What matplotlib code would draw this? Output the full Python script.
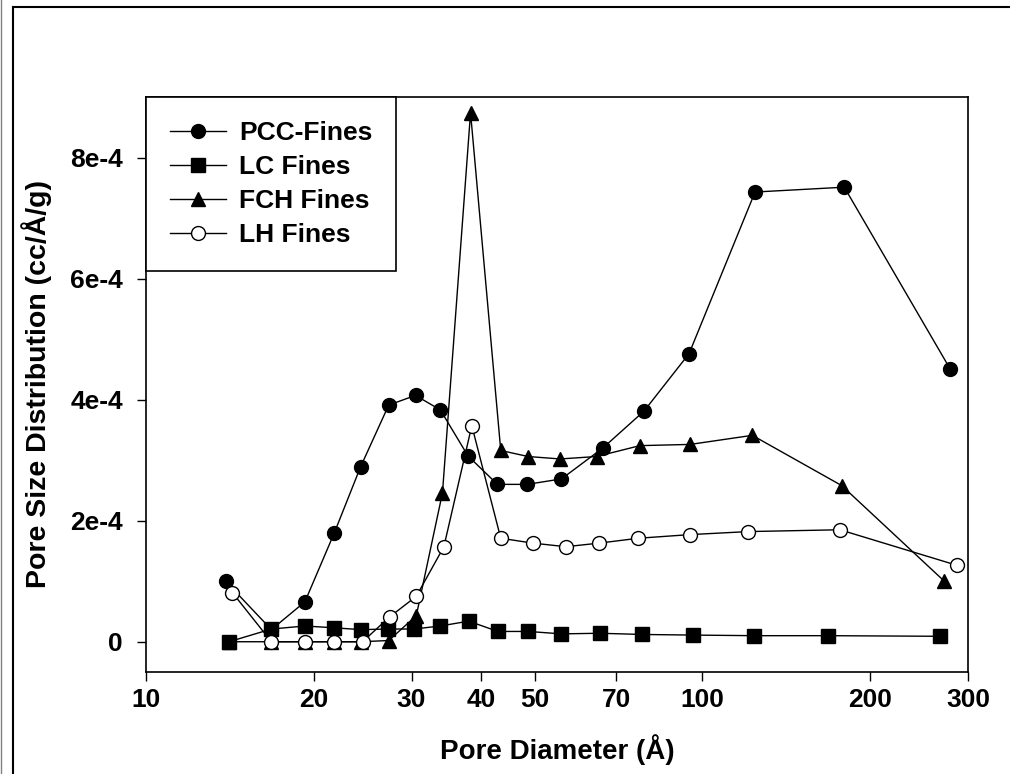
# 細孔径分布 (Pore size distribution) の再現
import numpy as np
import matplotlib
matplotlib.use("Agg")
import matplotlib.pyplot as plt
from matplotlib.lines import Line2D

plt.rcParams['font.family'] = ['Liberation Sans', 'DejaVu Sans']
plt.rcParams['font.weight'] = 'bold'

# データ
pcc_x = [13.9, 16.8, 19.3, 21.8, 24.3, 27.3, 30.5, 33.8, 37.9, 42.8, 48.4, 55.8, 66.2, 78.5, 94.6, 124.3, 179.8, 278.5]
pcc_y = [1.00e-4, 0.20e-4, 0.66e-4, 1.80e-4, 2.89e-4, 3.91e-4, 4.07e-4, 3.83e-4, 3.07e-4, 2.60e-4, 2.60e-4, 2.69e-4, 3.20e-4, 3.81e-4, 4.76e-4, 7.43e-4, 7.51e-4, 4.51e-4]

lc_x = [14.1, 16.8, 19.3, 21.8, 24.3, 27.2, 30.3, 33.8, 38.0, 42.9, 48.6, 55.8, 65.4, 78.0, 96.3, 123.9, 168.3, 266.7]
lc_y = [0.0, 0.21e-4, 0.26e-4, 0.23e-4, 0.20e-4, 0.21e-4, 0.21e-4, 0.26e-4, 0.34e-4, 0.17e-4, 0.17e-4, 0.13e-4, 0.14e-4, 0.12e-4, 0.11e-4, 0.10e-4, 0.10e-4, 0.09e-4]

fch_x = [14.1, 16.8, 19.3, 21.8, 24.3, 27.3, 30.6, 34.1, 38.3, 43.4, 48.6, 55.5, 64.5, 77.2, 95.0, 122.9, 177.9, 272.0]
fch_y = [0.0, 0.0, 0.0, 0.0, 0.0, 0.02e-4, 0.43e-4, 2.46e-4, 8.74e-4, 3.16e-4, 3.06e-4, 3.02e-4, 3.06e-4, 3.24e-4, 3.26e-4, 3.41e-4, 2.58e-4, 1.00e-4]

lh_x = [14.3, 16.8, 19.3, 21.8, 24.5, 27.4, 30.6, 34.3, 38.5, 43.4, 49.5, 56.8, 65.3, 76.7, 95.0, 120.9, 176.6, 287.2]
lh_y = [0.81e-4, 0.0, 0.0, 0.0, 0.0, 0.41e-4, 0.75e-4, 1.57e-4, 3.57e-4, 1.71e-4, 1.63e-4, 1.57e-4, 1.63e-4, 1.71e-4, 1.77e-4, 1.82e-4, 1.85e-4, 1.26e-4]

x_ticks = [10, 20, 30, 40, 50, 70, 100, 200, 300]
y_ticks = [0, 2e-4, 4e-4, 6e-4, 8e-4]
y_labels = ['0', '2e-4', '4e-4', '6e-4', '8e-4']

fig = plt.figure(figsize=(10.1, 7.74), dpi=100)
ax = fig.add_axes([146 / 1010, 1 - 672 / 774, (968 - 146) / 1010, (672 - 97) / 774])

lw = 1.0
ax.plot(pcc_x, pcc_y, '-o', color='black', lw=lw, ms=10, mfc='black', mec='black', label='PCC-Fines')
ax.plot(lc_x, lc_y, '-s', color='black', lw=lw, ms=9.5, mfc='black', mec='black', label='LC Fines')
ax.plot(fch_x, fch_y, '-^', color='black', lw=lw, ms=10, mfc='black', mec='black', label='FCH Fines')
ax.plot(lh_x, lh_y, '-o', color='black', lw=lw, ms=10, mfc='white', mec='black', mew=1.0, label='LH Fines')

ax.set_xscale('log')
ax.set_xlim(10, 300)
ax.set_ylim(-0.5e-4, 9e-4)
ax.set_xticks(x_ticks)
ax.set_xticklabels([str(v) for v in x_ticks])
ax.xaxis.set_minor_locator(matplotlib.ticker.NullLocator())
ax.set_yticks(y_ticks)
ax.set_yticklabels(y_labels)

fs = 19
ax.tick_params(axis='both', direction='out', length=6.5, width=1.0, labelsize=fs)
ax.tick_params(axis='y', pad=10)
ax.tick_params(axis='x', pad=5)
for s in ax.spines.values():
    s.set_linewidth(1.2)

ax.set_xlabel('Pore Diameter (Å)', fontsize=20, fontweight='bold')
ax.set_ylabel('Pore Size Distribution (cc/Å/g)', fontsize=20.5, fontweight='bold')
ax.xaxis.set_label_coords(0.5, -(734 - 672) / 575)
ax.yaxis.set_label_coords(-(146 - 52) / 822, 0.5)

leg = ax.legend(loc='upper left', bbox_to_anchor=(0, 1), borderaxespad=0, fancybox=False,
                edgecolor='black', framealpha=1, fontsize=19, handlelength=2.12,
                handletextpad=0.5, borderpad=0.9, labelspacing=0.38)
leg.get_frame().set_linewidth(1.2)

# 外枠
fig.add_artist(Line2D([13 / 1010, 1], [1 - 7 / 774, 1 - 7 / 774], color='black', lw=1.5))
fig.add_artist(Line2D([13 / 1010, 13 / 1010], [0, 1 - 7 / 774], color='black', lw=1.5))
fig.add_artist(Line2D([1 / 1010, 1 / 1010], [0, 1], color='gray', lw=1.0))

fig.savefig('out.png', dpi=100)
